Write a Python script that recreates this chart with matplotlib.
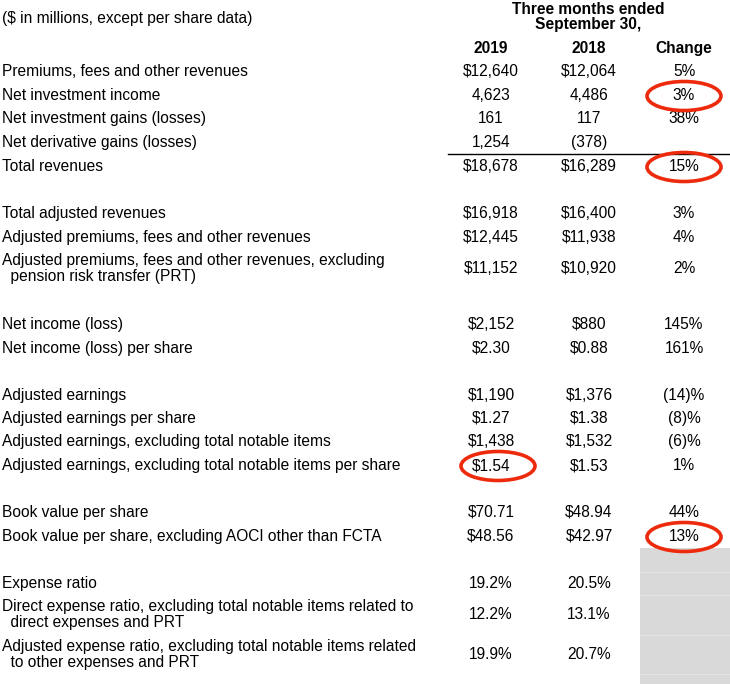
import matplotlib.pyplot as plt
from matplotlib.patches import Ellipse, Rectangle

plt.rcParams['font.family'] = ['Liberation Sans', 'DejaVu Sans']

# table content
row_labels = [
    "Premiums, fees and other revenues",
    "Net investment income",
    "Net investment gains (losses)",
    "Net derivative gains (losses)",
    "Total revenues",
    "Total adjusted revenues",
    "Adjusted premiums, fees and other revenues",
    "Adjusted premiums, fees and other revenues, excluding\n  pension risk transfer (PRT)",
    "Net income (loss)",
    "Net income (loss) per share",
    "Adjusted earnings",
    "Adjusted earnings per share",
    "Adjusted earnings, excluding total notable items",
    "Adjusted earnings, excluding total notable items per share",
    "Book value per share",
    "Book value per share, excluding AOCI other than FCTA",
    "Expense ratio",
    "Direct expense ratio, excluding total notable items related to\n  direct expenses and PRT",
    "Adjusted expense ratio, excluding total notable items related\n  to other expenses and PRT",
]
values_2019 = ["$12,640", "4,623", "161", "1,254", "$18,678",
               "$16,918", "$12,445", "$11,152",
               "$2,152", "$2.30",
               "$1,190", "$1.27", "$1,438", "$1.54",
               "$70.71", "$48.56",
               "19.2%", "12.2%", "19.9%"]
values_2018 = ["$12,064", "4,486", "117", "(378)", "$16,289",
               "$16,400", "$11,938", "$10,920",
               "$880", "$0.88",
               "$1,376", "$1.38", "$1,532", "$1.53",
               "$48.94", "$42.97",
               "20.5%", "13.1%", "20.7%"]
change = ["5%", "3%", "38%", "", "15%",
          "3%", "4%", "2%",
          "145%", "161%",
          "(14)%", "(8)%", "(6)%", "1%",
          "44%", "13%",
          "", "", ""]

# vertical centre of each row, in pixels from the top
row_y = [71, 95, 118, 142, 166, 213, 237, 268, 324, 348,
         395, 418, 441, 465, 512, 536, 583, 614, 654]

# rows that get a red circle: (row index, column x)
circled = [(1, 684), (4, 684), (13, 498), (15, 684)]

W, H = 730, 684
fig = plt.figure(figsize=(W / 100, H / 100), dpi=100)
ax = fig.add_axes([0, 0, 1, 1])
ax.set_xlim(0, W)
ax.set_ylim(H, 0)
ax.axis('off')

fs = 11.2
col_x = [491, 589, 684]
base = 5   # baseline sits this far below the row centre


def put(x, y, s, ha='left', bold=False):
    ax.text(x, y + base, s, fontsize=fs, ha=ha, va='baseline',
            fontweight='bold' if bold else 'normal')


# grey block under the change column
ax.add_patch(Rectangle((640, 548), 90, 136, color='#d9d9d9', lw=0, zorder=0))
for yy in [572, 595, 635, 674]:
    ax.plot([640, 730], [yy, yy], color='#e6e6e6', lw=0.6, zorder=0.5)

# headers
put(2, 18, "($ in millions, except per share data)")
put(588, 9, "Three months ended", ha='center', bold=True)
put(588, 24, "September 30,", ha='center', bold=True)
for x, h in zip(col_x, ["2019", "2018", "Change"]):
    put(x, 48, h, ha='center', bold=True)

for lab, v1, v2, ch, y in zip(row_labels, values_2019, values_2018, change, row_y):
    lines = lab.split('\n')
    if len(lines) == 1:
        put(2, y, lab)
    else:
        put(2, y - 8, lines[0])
        put(2, y + 8, lines[1])
    put(col_x[0], y, v1, ha='center')
    put(col_x[1], y, v2, ha='center')
    if ch:
        put(col_x[2], y, ch, ha='center')

# rule above total revenues
ax.plot([448, 730], [154, 154], color='black', lw=1.0)

for i, x in circled:
    ax.add_patch(Ellipse((x, row_y[i] + 1), 74, 29, fill=False,
                         edgecolor='#ee2a0c', lw=2.6, zorder=3))

fig.savefig('out.png', dpi=100)
